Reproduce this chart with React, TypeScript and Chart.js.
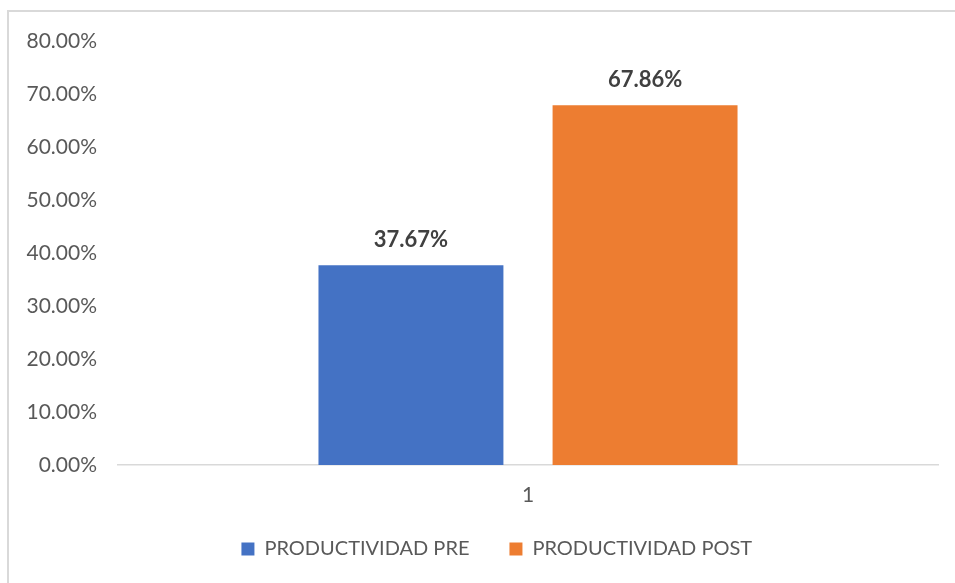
import React, { useEffect, useRef } from "react";
import { Chart, registerables } from "chart.js";

Chart.register(...registerables);

const categories = ["1"];
const seriesNames = ["PRODUCTIVIDAD PRE", "PRODUCTIVIDAD POST"];
const preValues = [37.67];
const postValues = [67.86];
const seriesColors = ["#4472C4", "#ED7D31"];
const yMin = 0;
const yMax = 80;
const yStep = 10;

const FONT = "Lato, 'Noto Sans', sans-serif";

const dataLabelPlugin = {
  id: "dataLabels",
  afterDatasetsDraw(chart: any) {
    const ctx = chart.ctx;
    ctx.save();
    ctx.font = `bold 22px ${FONT}`;
    ctx.fillStyle = "#404040";
    ctx.textAlign = "center";
    ctx.textBaseline = "middle";
    chart.data.datasets.forEach((ds: any, i: number) => {
      const meta = chart.getDatasetMeta(i);
      meta.data.forEach((bar: any, j: number) => {
        const v = ds.data[j];
        ctx.fillText(v.toFixed(2) + "%", bar.x, bar.y - 25);
      });
    });
    ctx.restore();
  },
};

export default function App() {
  const ref = useRef<HTMLCanvasElement | null>(null);

  useEffect(() => {
    if (!ref.current) return;
    const chart = new Chart(ref.current, {
      type: "bar",
      data: {
        labels: categories,
        datasets: [
          {
            label: seriesNames[0],
            data: preValues,
            backgroundColor: seriesColors[0],
            categoryPercentage: 0.571,
            barPercentage: 0.79,
          },
          {
            label: seriesNames[1],
            data: postValues,
            backgroundColor: seriesColors[1],
            categoryPercentage: 0.571,
            barPercentage: 0.79,
          },
        ],
      },
      options: {
        responsive: false,
        animation: false,
        layout: { padding: { left: 0, right: 17, top: 41, bottom: 14 } },
        plugins: {
          tooltip: { enabled: false },
          legend: {
            position: "bottom",
            fullSize: false,
            labels: {
              font: { family: FONT, size: 20 },
              color: "#595959",
              boxWidth: 13,
              boxHeight: 13,
              padding: 10,
              generateLabels(chart: any) {
                const items = Chart.defaults.plugins.legend.labels.generateLabels(chart);
                items.forEach((it: any, idx: number) => {
                  if (idx === 0) it.text = it.text + "\u2003\u2003";
                  else it.text = it.text + "\u2003\u2003\u2003\u2002\u2009\u2009\u2009";
                  it.lineWidth = 0;
                });
                return items;
              },
            },
          },
        },
        scales: {
          x: {
            grid: { display: false, drawTicks: false },
            border: { display: true, color: "#d9d9d9", width: 1.5 },
            ticks: {
              font: { family: FONT, size: 21 },
              color: "#595959",
              padding: 18,
            },
            afterFit(scale: any) {
              scale.height = 64;
            },
          },
          y: {
            min: yMin,
            max: yMax,
            grid: { display: false, drawTicks: false },
            border: { display: false },
            ticks: {
              stepSize: yStep,
              font: { family: FONT, size: 21 },
              color: "#595959",
              padding: 21,
              callback: (v: any) => Number(v).toFixed(2) + "%",
            },
            afterFit(scale: any) {
              scale.width = 118;
            },
          },
        },
      },
      plugins: [dataLabelPlugin],
    });
    return () => chart.destroy();
  }, []);

  return (
    <div
      style={{
        position: "fixed",
        left: 0,
        top: 0,
        width: 955,
        height: 583,
        overflow: "hidden",
        background: "#ffffff",
      }}
    >
      <div
        style={{
          position: "absolute",
          left: 7,
          top: 10,
          width: 1000,
          height: 1000,
          border: "2px solid #d9d9d9",
        }}
      />
      <canvas
        ref={ref}
        width={955}
        height={583}
        style={{ position: "absolute", left: 0, top: 0, width: 955, height: 583 }}
      />
    </div>
  );
}
